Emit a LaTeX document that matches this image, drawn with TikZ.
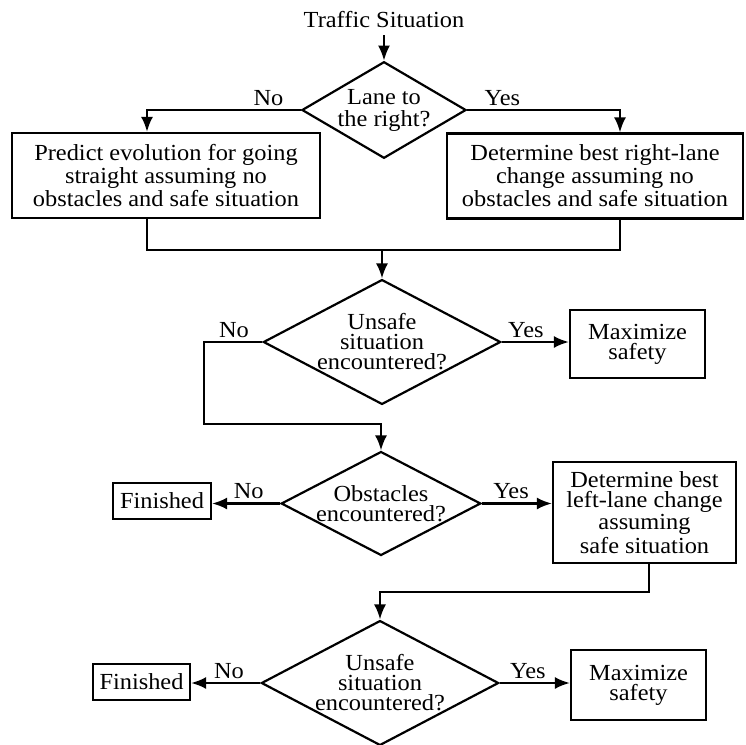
\documentclass[tikz,border=0pt]{standalone}
\usepackage{fontspec}
\setmainfont[FakeStretch=1.06]{Liberation Serif}
\usetikzlibrary{shapes.geometric,arrows.meta}
\tikzset{
    box/.style={draw,line width=1.1pt,align=center,inner sep=0pt},
    decision/.style={draw,diamond,line width=1.1pt,align=center,inner sep=0pt},
    flow/.style={line width=1.1pt,-{Latex[length=7.5pt,width=6pt]}},
    lbl/.style={inner sep=0.5pt}
}
\begin{document}
\begin{tikzpicture}[x=1pt,y=-1pt,font=\fontsize{11.5}{10}\selectfont]
                \useasboundingbox (0,0) rectangle (373,372.5);
                \node (T) at (192,10) {Traffic Situation};
                \node[decision,aspect=1.7,minimum width=80pt,minimum height=48pt,font=\fontsize{11.5}{11}\selectfont] (D1) at (192,55) {Lane to\\the right?};
                \node[box,minimum width=154pt,minimum height=42.5pt] (L) at (83,87.75) {Predict evolution for going\\straight assuming no\\obstacles and safe situation};
                \node[box,minimum width=148pt,minimum height=42.5pt] (R) at (297.5,88) {Determine best right-lane\\change assuming no\\obstacles and safe situation};
                \node[decision,aspect=1.9,minimum width=118pt,minimum height=61.5pt] (D2) at (191,171) {Unsafe\\situation\\encountered?};
                \node[box,minimum width=67.5pt,minimum height=34pt] (M1) at (318.75,172) {Maximize\\safety};
                \node[decision,aspect=1.92,minimum width=99pt,minimum height=51.5pt] (D3) at (190.5,251.75) {Obstacles\\encountered?};
                \node[box,minimum width=49pt,minimum height=18pt] (F1) at (81,250.5) {Finished};
                \node[box,minimum width=91.5pt,minimum height=50.5pt] (LL) at (322.25,256.25) {Determine best\\left-lane change\\assuming\\safe situation};
                \node[decision,aspect=1.9,minimum width=116.5pt,minimum height=61pt] (D4) at (190,341.5) {Unsafe\\situation\\encountered?};
                \node[box,minimum width=48.5pt,minimum height=18pt] (F2) at (70.75,341) {Finished};
                \node[box,minimum width=67.5pt,minimum height=35pt] (M2) at (319.25,342.5) {Maximize\\safety};
                \coordinate (J) at (191,125);
                \coordinate (K1) at (102,212);
                \coordinate (K2) at (324.5,296);
                % connectors
                \draw[flow] (T) -- (D1);
                \draw[flow] (D1.west) -| ([xshift=-9.5pt]L.north);
                \draw[flow] (D1.east) -| ([xshift=12.5pt]R.north);
                \draw[line width=1.1pt] ([xshift=-9.5pt]L.south) |- (J) -| ([xshift=12.5pt]R.south);
                \draw[flow] (J) -- (D2);
                \draw[flow] (D2.east) -- (D2.east -| M1.west);
                \draw[flow] (D2.west) -| (K1) -| (D3.north);
                \draw[flow] (D3.west) -- (D3.west -| F1.east);
                \draw[flow] (D3.east) -- (D3.east -| LL.west);
                \draw[flow] ([xshift=2.25pt]LL.south) -- (K2) -| (D4.north);
                \draw[flow] (D4.west) -- (D4.west -| F2.east);
                \draw[flow] (D4.east) -- (D4.east -| M2.west);
                % branch labels
                \node[lbl,anchor=south east] (n1) at ([xshift=-8pt,yshift=1.5pt]D1.west) {No};
                \node[lbl,anchor=south west] (y1) at ([xshift=8pt,yshift=1.5pt]D1.east) {Yes};
                \node[lbl,anchor=south east] (n2) at ([xshift=-6pt,yshift=1.5pt]D2.west) {No};
                \node[lbl,anchor=south west] (y2) at ([xshift=2.5pt,yshift=1.5pt]D2.east) {Yes};
                \node[lbl,anchor=south east] (n3) at ([xshift=-7.5pt,yshift=1.5pt]D3.west) {No};
                \node[lbl,anchor=south west] (y3) at ([xshift=5pt,yshift=1.5pt]D3.east) {Yes};
                \node[lbl,anchor=south east] (n4) at ([xshift=-7.5pt,yshift=1.5pt]D4.west) {No};
                \node[lbl,anchor=south west] (y4) at ([xshift=4.5pt,yshift=1.5pt]D4.east) {Yes};
\end{tikzpicture}
\end{document}
